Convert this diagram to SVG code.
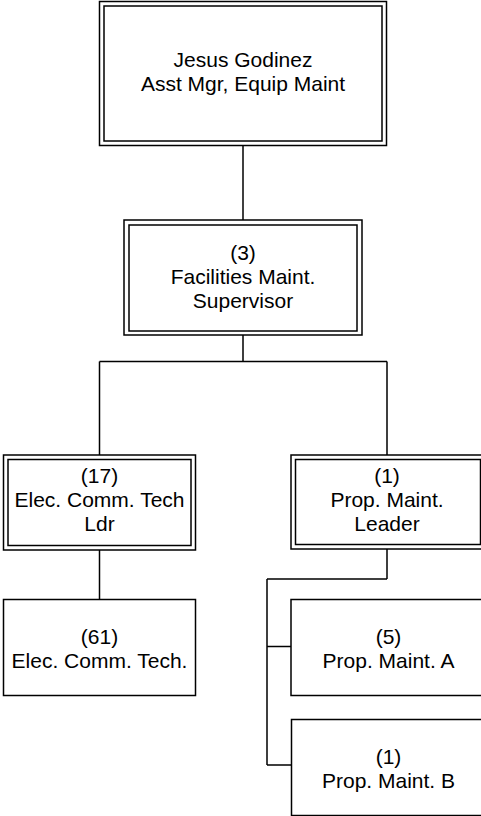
<svg xmlns="http://www.w3.org/2000/svg" width="481" height="816" viewBox="0 0 481 816">
<style>
rect{fill:none;stroke:#000;stroke-width:1.5}
.c path{fill:none;stroke:#000;stroke-width:1.5}
text{font-family:"Liberation Sans",Arial,sans-serif;font-size:21px;fill:#000;text-anchor:middle}
</style>
<rect x="0" y="0" width="481" height="816" style="fill:#fff;stroke:none"/>
<g class="c" id="connectors">
<path d="M243,145.5V220"/>
<path d="M243,335V361.5M99.5,361.5H387M99.5,361.5V455M387,361.5V455"/>
<path d="M99.5,550V599.5"/>
<path d="M387,549V579M267,579H387M267,579V765M267,646.5H291M267,765H291.5"/>
</g>
<g id="n1">
<rect x="99.5" y="1.5" width="287" height="144"/>
<rect x="104" y="6" width="278" height="135"/>
<text x="243" y="67">Jesus Godinez</text>
<text x="243" y="91">Asst Mgr, Equip Maint</text>
</g>
<g id="n2">
<rect x="124" y="220" width="238" height="115"/>
<rect x="129" y="225" width="228" height="106"/>
<text x="243" y="260">(3)</text>
<text x="243" y="284">Facilities Maint.</text>
<text x="243" y="308">Supervisor</text>
</g>
<g id="n3">
<rect x="3.5" y="455" width="192" height="95"/>
<rect x="8" y="459.5" width="183" height="86"/>
<text x="99.5" y="483">(17)</text>
<text x="99.5" y="507">Elec. Comm. Tech</text>
<text x="99.5" y="531">Ldr</text>
</g>
<g id="n4">
<rect x="291" y="455" width="193" height="94"/>
<rect x="295.5" y="459.5" width="185" height="85"/>
<text x="387" y="483">(1)</text>
<text x="387" y="507">Prop. Maint.</text>
<text x="387" y="531">Leader</text>
</g>
<g id="n5">
<rect x="3.5" y="599.5" width="192" height="96"/>
<text x="99.5" y="644">(61)</text>
<text x="99.5" y="668">Elec. Comm. Tech.</text>
</g>
<g id="n6">
<rect x="291" y="599.5" width="195" height="96"/>
<text x="388.5" y="644">(5)</text>
<text x="388.5" y="668">Prop. Maint. A</text>
</g>
<g id="n7">
<rect x="291.5" y="719.5" width="195" height="96"/>
<text x="388.5" y="764">(1)</text>
<text x="388.5" y="788">Prop. Maint. B</text>
</g>
</svg>
